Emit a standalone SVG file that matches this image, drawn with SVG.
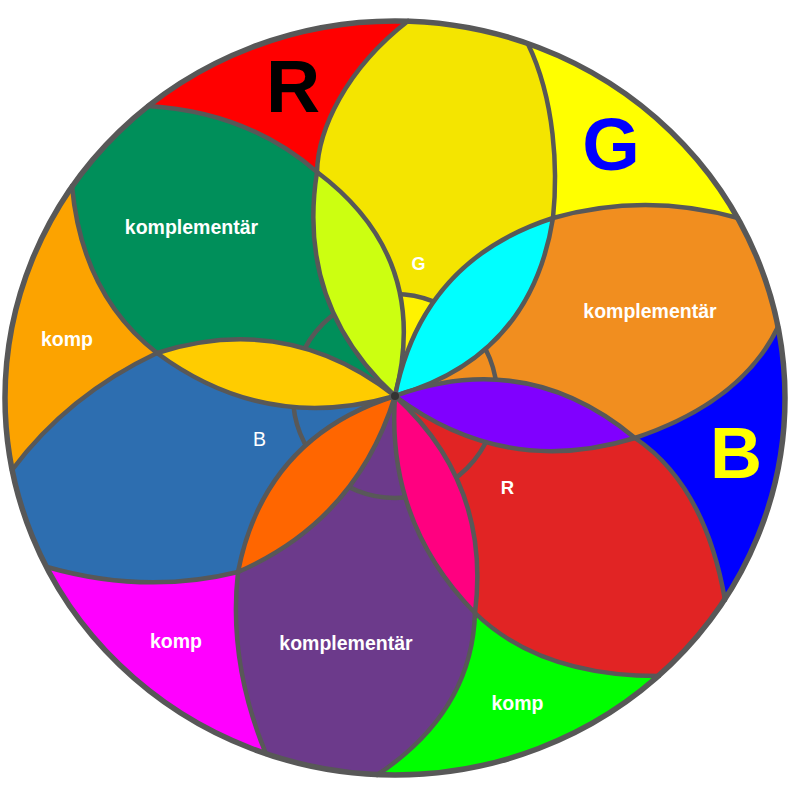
<svg xmlns="http://www.w3.org/2000/svg" width="800" height="800" viewBox="0 0 800 800">
  <defs>
    <clipPath id="disc">
      <ellipse cx="395" cy="398" rx="390" ry="377"/>
    </clipPath>
    <style>
      .ln { fill: none; stroke: #585858; stroke-width: 4.5; stroke-linecap: round; stroke-linejoin: round; }
      .pt { stroke: #585858; stroke-width: 4.5; stroke-linejoin: round; }
      .lbl { font-family: "Liberation Sans", Arial, sans-serif; font-weight: bold; text-anchor: middle; }
      .w { fill: #ffffff; }
    </style>
  </defs>
  <rect width="800" height="800" fill="#ffffff"/>

  <g id="regions" clip-path="url(#disc)">
    <g id="ring-red"><path fill="#FF0000" d="M148,106 Q248,112 317,172 C318,130 345,70 408,21 L415.8,-204 L0.2,-68 Z"/></g>
    <g id="region-G"><path fill="#F4E500" d="M395,396 L317,172 C318,130 345,70 408,21 L415.8,-204 L607.8,-167.2 L528,44 C555,100 558,170 553,218 Z"/>
      <path fill="#FFF200" d="M395,396 L361.5,299.7 A102,102 0 0,1 462.7,319.7 Z"/></g>
    <g id="ring-yellow"><path fill="#FFFF00" d="M528,44 C555,100 558,170 553,218 Q645,192 738,218 L943.8,111.2 L607.8,-167.2 Z"/></g>
    <g id="region-orange"><path fill="#F18E1F" d="M395,396 L553,218 Q645,192 738,218 L943.8,111.2 L1007.8,285.6 L778,327 Q742,402 635,438 Z"/></g>
    <g id="ring-blue"><path fill="#0000FF" d="M778,327 Q742,402 635,438 Q705,485 725,600 L923,722.4 L1007.8,285.6 Z"/></g>
    <g id="region-R"><path fill="#E12424" d="M395,396 L635,438 Q705,485 725,600 L923,722.4 L817.4,844 L659,676 Q540,676 475,613 Z"/></g>
    <g id="ring-green"><path fill="#00FF00" d="M659,676 Q540,676 475,613 Q472,712 377,775 L366.2,1002.4 L817.4,844 Z"/></g>
    <g id="region-purple"><path fill="#6C3A8B" d="M395,396 L475,613 Q472,712 377,775 L366.2,1002.4 L188.6,968.8 L266,754 Q228,662 238,572 Z"/></g>
    <g id="ring-magenta"><path fill="#FF00FF" d="M266,754 Q228,662 238,572 Q145,595 47,567 L-161.8,669.6 L188.6,968.8 Z"/></g>
    <g id="region-B"><path fill="#2D6EB0" d="M395,396 L238,572 Q145,595 47,567 L-161.8,669.6 L-217.8,514.4 L12,470 Q68,395 157,353 Z"/></g>
    <g id="ring-orange"><path fill="#FCA300" d="M12,470 Q68,395 157,353 Q82,295 72,186 L-121.8,60 L-217.8,514.4 Z"/></g>
    <g id="region-green"><path fill="#008F5A" d="M395,396 L157,353 Q82,295 72,186 L-121.8,60 L0.2,-68 L148,106 Q248,112 317,172 Z"/></g>
  </g>

  <g id="connectors">
    <circle class="ln" cx="395" cy="396" r="102"/>
    <path class="ln" d="M317,172 C318,130 345,70 408,21"/>
    <path class="ln" d="M317,172 Q248,112 148,106"/>
    <path class="ln" d="M553,218 C558,170 555,100 528,44"/>
    <path class="ln" d="M553,218 Q645,192 738,218"/>
    <path class="ln" d="M635,438 Q742,402 778,327"/>
    <path class="ln" d="M635,438 Q705,485 725,600"/>
    <path class="ln" d="M475,613 Q540,676 659,676"/>
    <path class="ln" d="M475,613 Q472,712 377,775"/>
    <path class="ln" d="M238,572 Q228,662 266,754"/>
    <path class="ln" d="M238,572 Q145,595 47,567"/>
    <path class="ln" d="M157,353 Q68,395 12,470"/>
    <path class="ln" d="M157,353 Q82,295 72,186"/>
  </g>

  <g id="petals">
    <g id="petal-lime"><path class="pt" fill="#CCFF11" d="M395,396 Q431.5,257.7 317,172 Q296,305 395,396 Z"/></g>
    <g id="petal-cyan"><path class="pt" fill="#00FFFF" d="M395,396 Q421.6,260.5 553,218 Q530.8,357.5 395,396 Z"/></g>
    <g id="petal-violet"><path class="pt" fill="#8000FF" d="M395,396 Q527,348 635,438 Q504.3,478.1 395,396 Z"/></g>
    <g id="petal-pink"><path class="pt" fill="#FF0080" d="M395,396 Q491.3,483.7 475,613 Q386.2,522.5 395,396 Z"/></g>
    <g id="petal-orange"><path class="pt" fill="#FF6600" d="M395,396 Q264.3,437.4 238,572 Q356.8,520 395,396 Z"/></g>
    <g id="petal-gold"><path class="pt" fill="#FFCC00" d="M395,396 Q287.4,311.5 157,353 Q265.3,433.5 395,396 Z"/></g>
    <circle cx="395" cy="396" r="4" fill="#333333"/>
  </g>

  <ellipse id="rim" cx="395" cy="398" rx="390" ry="377" fill="none" stroke="#585858" stroke-width="5.5"/>

  <g id="labels">
    <text class="lbl" x="293" y="112" font-size="75" fill="#000000">R</text>
    <text class="lbl" x="611" y="170" font-size="74" fill="#0000FF">G</text>
    <text class="lbl" x="736" y="478" font-size="72" fill="#FFFF00">B</text>
    <text class="lbl w" x="418.5" y="270" font-size="18">G</text>
    <text class="lbl w" x="259.5" y="446" font-size="19.5" font-weight="normal" style="font-weight:normal">B</text>
    <text class="lbl w" x="507.5" y="494" font-size="18.5">R</text>
    <text class="lbl w" x="191.5" y="234" font-size="19.5">komplementär</text>
    <text class="lbl w" x="650" y="318" font-size="19.5">komplementär</text>
    <text class="lbl w" x="346" y="650" font-size="19.5">komplementär</text>
    <text class="lbl w" x="67" y="346" font-size="19.5">komp</text>
    <text class="lbl w" x="176" y="648" font-size="19.5">komp</text>
    <text class="lbl w" x="517.5" y="710" font-size="19.5">komp</text>
  </g>
</svg>
